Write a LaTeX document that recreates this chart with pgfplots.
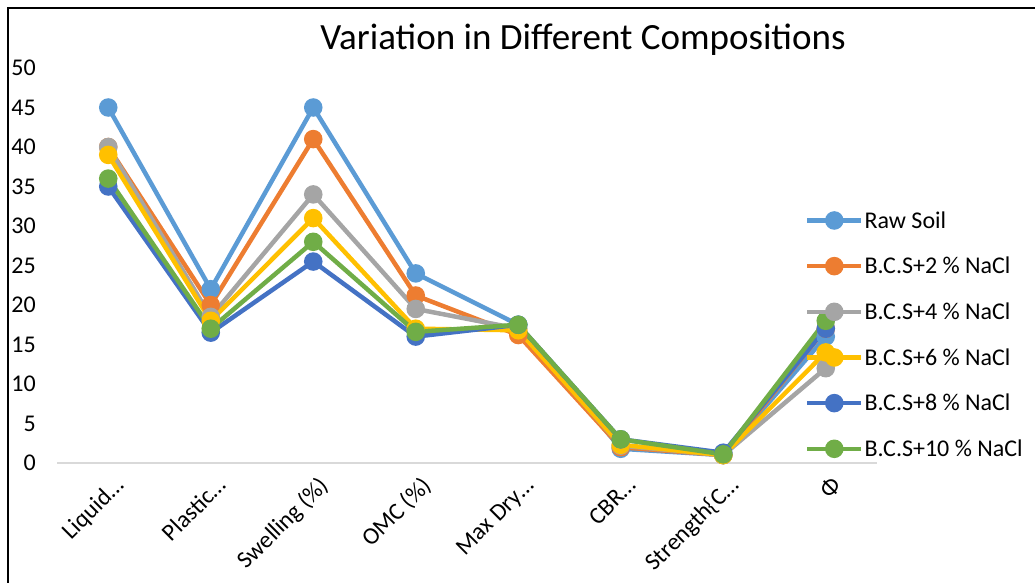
\documentclass[border=0pt]{standalone}
\usepackage{fontspec}
\setmainfont{Carlito}
\usepackage{pgfplots}
\pgfplotsset{compat=1.18}

\definecolor{rawc}{HTML}{5B9BD5}
\definecolor{twoc}{HTML}{ED7D31}
\definecolor{fourc}{HTML}{A5A5A5}
\definecolor{sixc}{HTML}{FFC000}
\definecolor{eightc}{HTML}{4472C4}
\definecolor{tenc}{HTML}{70AD47}

\begin{document}
\begin{tikzpicture}[x=1pt,y=1pt]
\path[use as bounding box] (0,0) rectangle (1035,583);
\draw[line width=2pt] (8,0) -- (8,575) -- (1035,575);
\node[font=\fontsize{37}{42}\selectfont, anchor=base] at (583,533) {Variation in Different Compositions};

\begin{axis}[
    at={(57pt,120pt)}, anchor=south west,
    scale only axis,
    width=820pt, height=395pt,
    xmin=-0.5, xmax=7.5,
    ymin=0, ymax=50,
    clip=false,
    axis lines=left,
    x axis line style={-, draw=black!15, line width=1.5pt},
    y axis line style={draw=none},
    major tick length=0pt,
    xtick={0,...,7},
    xticklabels={Liquid…, Plastic…, Swelling (\%), OMC (\%), Max Dry…, CBR…, Strength\{C…, Φ},
    xticklabel style={xshift=15pt, yshift=-22pt, rotate=45, anchor=east, inner sep=0pt,
        text height=0.7em, text depth=0.2em},
    ytick={0,5,...,50},
    yticklabel style={anchor=east, inner sep=0pt, xshift=-21pt},
    /pgf/number format/assume math mode=true,
    tick label style={font=\fontsize{24}{28}\selectfont},
    every axis plot/.append style={line width=4.5pt, mark=*, mark size=7pt},
    legend style={draw=none, fill=none, at={(0.912,0.640)}, anchor=north west,
        font=\fontsize{24}{28}\selectfont, row sep=25.5pt, inner sep=0pt,
        nodes={inner sep=1pt}},
    legend cell align=left,
    legend image code/.code={\draw[mark repeat=2, mark phase=2, #1]
        plot coordinates {(0pt,0pt) (27pt,0pt) (54pt,0pt)};},
]
\addplot[rawc] coordinates {(0,45) (1,22) (2,45) (3,24) (4,17.5) (5,1.8) (6,1.0) (7,16)};
\addplot[twoc] coordinates {(0,40) (1,20) (2,41) (3,21.2) (4,16.2) (5,2.0) (6,1.0) (7,17)};
\addplot[fourc] coordinates {(0,40) (1,18.5) (2,34) (3,19.5) (4,17) (5,2.2) (6,1.0) (7,12)};
\addplot[sixc] coordinates {(0,39) (1,18) (2,31) (3,17) (4,16.8) (5,2.3) (6,1.0) (7,14)};
\addplot[eightc] coordinates {(0,35) (1,16.5) (2,25.5) (3,16) (4,17.5) (5,3.0) (6,1.3) (7,17)};
\addplot[tenc] coordinates {(0,36) (1,17) (2,28) (3,16.6) (4,17.5) (5,3.0) (6,1.1) (7,18)};
\legend{Raw Soil, B.C.S+2 \% NaCl, B.C.S+4 \% NaCl, B.C.S+6 \% NaCl, B.C.S+8 \% NaCl, B.C.S+10 \% NaCl}
\end{axis}
\end{tikzpicture}
\end{document}
